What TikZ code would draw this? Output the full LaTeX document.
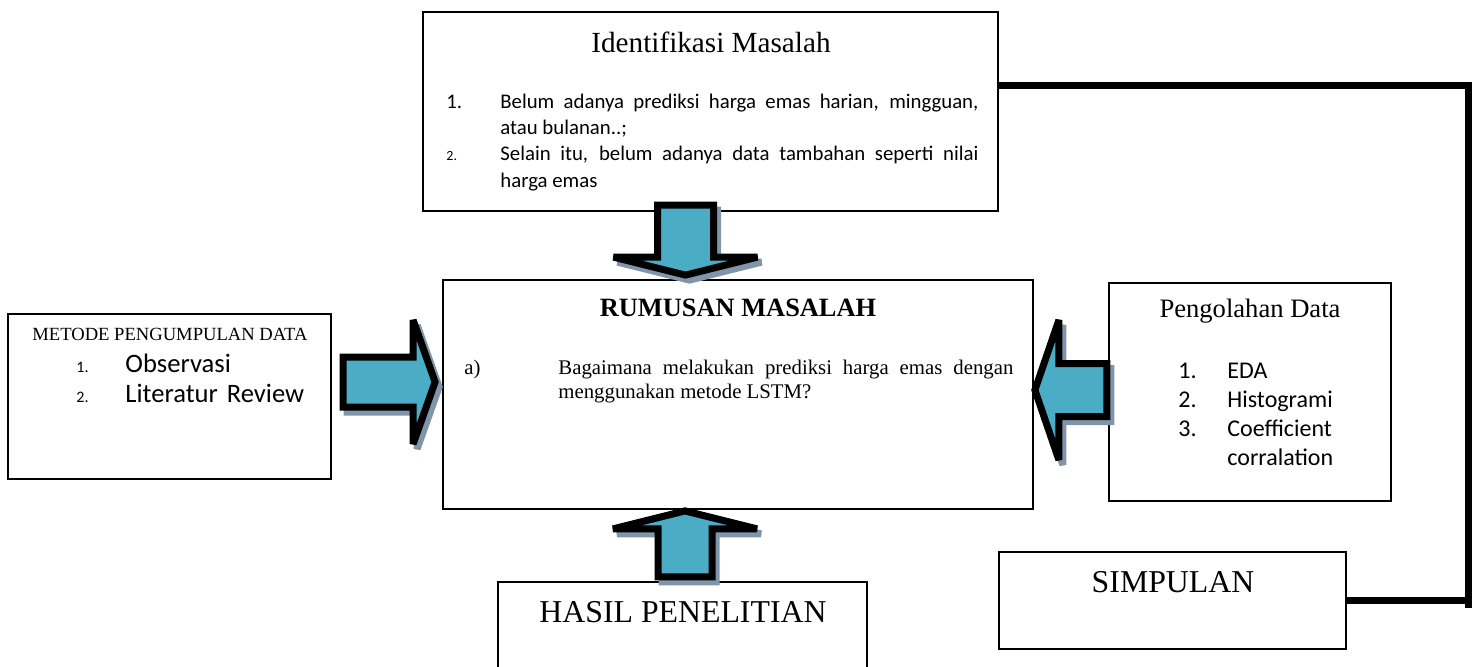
\documentclass[tikz,border=0pt]{standalone}
\usepackage{fontspec}
\setmainfont{Liberation Serif}
\newfontfamily\calibri{Carlito}
\usetikzlibrary{calc}
\definecolor{arrowfill}{RGB}{75,172,198}
\definecolor{arrowshade}{RGB}{128,148,170}
\tikzset{
  box/.style={draw, line width=0.9pt, inner sep=0pt},
  blockarrow/.style={draw=black, fill=arrowfill, line width=3.5pt, line join=miter, miter limit=3,
    preaction={draw=arrowshade, fill=arrowshade, line width=3.5pt, line join=miter, miter limit=3,
      transform canvas={shift={(4,5)}}}},
  frameline/.style={line width=3.5pt},
}

\begin{document}
\begin{tikzpicture}[x=0.5pt, y=-0.5pt]

    \useasboundingbox (0,0) rectangle (1479,666);
    \clip (0,0) rectangle (1479,666);

    \node[box, minimum width=287.5pt, minimum height=99.5pt] (ident) at (710.5,111.5) {};
    \node[box, minimum width=295pt, minimum height=114.5pt] (rumusan) at (738,394.5) {};
    \node[box, minimum width=161.5pt, minimum height=82.5pt] (metode) at (169.5,396.5) {};
    \node[box, minimum width=141pt, minimum height=109pt] (olah) at (1250,392) {};
    \node[box, minimum width=184.5pt, minimum height=59pt] (hasil) at (682.5,641) {};
    \node[box, minimum width=173.5pt, minimum height=48.5pt] (simpulan) at (1172.5,600.5) {};

    \node[anchor=base, font=\fontsize{14.6}{17}\selectfont] (identtitle) at (711,52) {Identifikasi Masalah};
    \node[anchor=base west, text width=266pt, align=justify, inner sep=0pt,
          font=\calibri\fontsize{10.4}{13.2}\selectfont] (identlist) at (446,108)
          {\hangindent=27pt\hangafter=1\noindent\makebox[27pt][l]{1.}Belum adanya prediksi harga emas harian, mingguan, atau bulanan..;\par
           \hangindent=27pt\hangafter=1\noindent\makebox[27pt][l]{\fontsize{7}{13.2}\selectfont 2.}Selain itu, belum adanya data tambahan seperti nilai harga emas\par};

    \node[anchor=base, font=\bfseries\fontsize{13.2}{16}\selectfont] (rumusantitle) at (738,316) {RUMUSAN MASALAH};
    \node[anchor=base west, text width=274.5pt, align=justify, inner sep=0pt,
          font=\fontsize{10.4}{12}\selectfont] (rumusanlist) at (464,374)
          {\hangindent=47pt\hangafter=1\noindent\makebox[47pt][l]{a)}Bagaimana melakukan prediksi harga emas dengan menggunakan metode LSTM?\par};

    \node[anchor=base, font=\fontsize{9.3}{11}\selectfont] (metodetitle) at (170,340) {METODE PENGUMPULAN DATA};
    \node[anchor=base west, text width=150pt, align=left, inner sep=0pt, font=\calibri\fontsize{13.3}{15}\selectfont] (metodelist) at (76,372)
          {\makebox[24.5pt][l]{\fontsize{8}{15}\selectfont 1.}Observasi\\
           \makebox[24.5pt][l]{\fontsize{8}{15}\selectfont 2.}Literatur Review};

    \node[anchor=base, font=\fontsize{13.3}{16}\selectfont] (olahtitle) at (1250,317) {Pengolahan Data};
    \node[anchor=base west, text width=100pt, align=left, inner sep=0pt, font=\calibri\fontsize{12}{14.5}\selectfont] (olahlist) at (1178,378)
          {\makebox[24.5pt][l]{1.}EDA\\
           \makebox[24.5pt][l]{2.}Histogrami\\
           \makebox[24.5pt][l]{3.}Coefficient\\
           \hspace*{24.5pt}corralation};

    \node[anchor=base, font=\fontsize{15.9}{19}\selectfont] (hasiltext) at (683,622) {HASIL PENELITIAN};
    \node[anchor=base, font=\fontsize{15.9}{19}\selectfont] (simpulantext) at (1173,592) {SIMPULAN};

    \coordinate (dntip) at ($(rumusan.north)+(-52.5,-4)$);
    \coordinate (uptip) at ($(rumusan.south)+(-53,1)$);
    \coordinate (rttip) at ($(rumusan.west)+(-7,-12.5)$);
    \coordinate (lftip) at ($(rumusan.east)+(1,-4.5)$);

    \draw[blockarrow, shift={(dntip)}] (0,0) -- (72,-18) -- (28,-18) -- (28,-70) -- (-28,-70) -- (-28,-18) -- (-72,-18) -- cycle;
    \draw[blockarrow, shift={(uptip)}] (0,0) -- (72,18) -- (27,18) -- (27,66) -- (-27,66) -- (-27,18) -- (-72,18) -- cycle;
    \draw[blockarrow, shift={(rttip)}] (0,0) -- (-22,-62) -- (-22,-25) -- (-92,-25) -- (-92,25) -- (-22,25) -- (-22,62) -- cycle;
    \draw[blockarrow, shift={(lftip)}] (0,0) -- (24,-70) -- (24,-26.5) -- (72,-26.5) -- (72,26.5) -- (24,26.5) -- (24,70) -- cycle;

    \coordinate (corner) at (1468,85);
    \coordinate (cornerlow) at (1468,608);
    \draw[frameline] (ident.east |- corner) -- (corner) -- (cornerlow);
    \draw[frameline] (simpulan.east) -- (simpulan.east -| cornerlow);

\end{tikzpicture}
\end{document}
